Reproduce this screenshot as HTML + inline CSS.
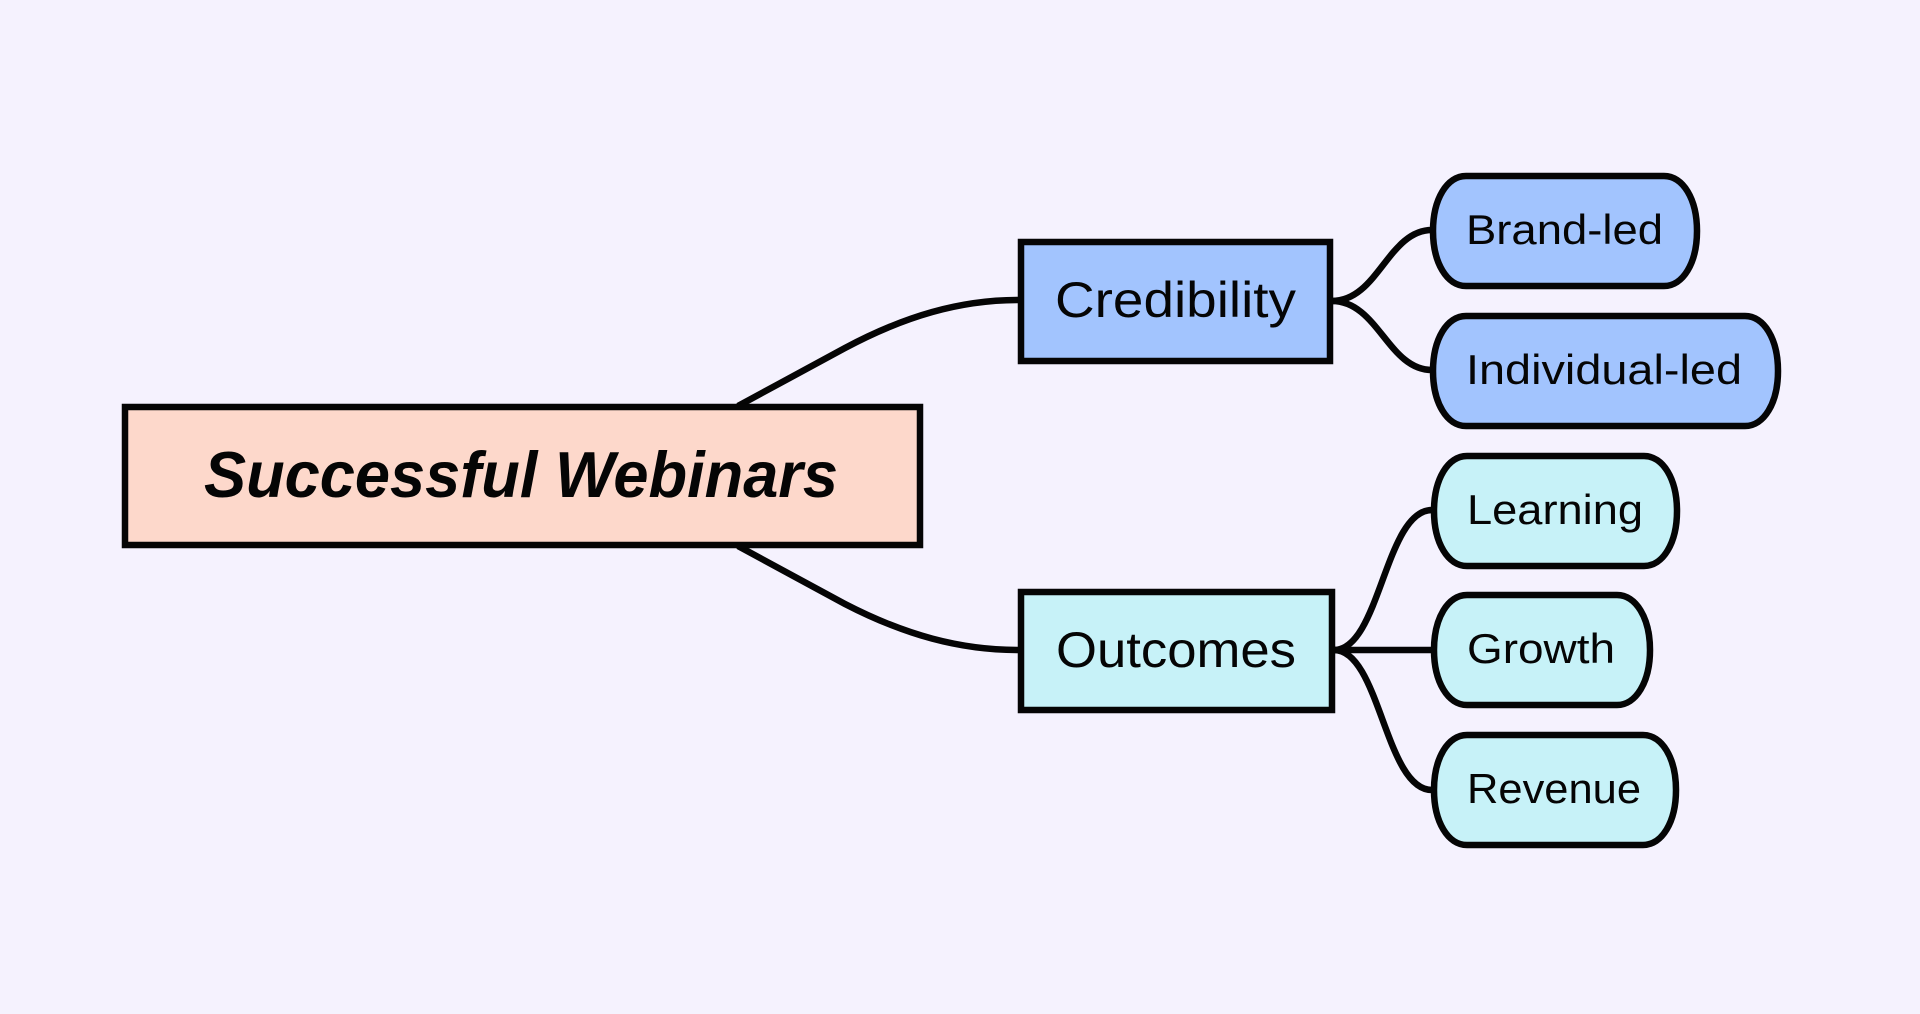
<!DOCTYPE html>
<html><head><meta charset="utf-8"><style>
html,body{margin:0;padding:0;background:#f5f2fe;overflow:hidden}
svg{display:block}
text{font-family:"Liberation Sans",sans-serif;fill:#050505}
</style></head><body>
<svg width="1920" height="1014" viewBox="0 0 1920 1014" xmlns="http://www.w3.org/2000/svg">
<rect width="1920" height="1014" fill="#f5f2fe"/>
<g fill="none" stroke="#050505" stroke-width="6.5">
<path d="M738 406 L845 348 C905 316 960 300 1018 300"/>
<path d="M738 546 L845 604 C905 635 960 650 1018 650"/>
<path d="M1332 301 C1378 301 1388 230 1432 230"/>
<path d="M1332 301 C1378 301 1388 370 1432 370"/>
<path d="M1334 650 C1380 650 1385 510 1432 510"/>
<path d="M1334 650 L1432 650"/>
<path d="M1334 650 C1380 650 1385 790 1432 790"/>
</g>
<g stroke="#050505" stroke-width="6.5">
<rect x="125" y="407" width="795" height="138" fill="#fdd8cb"/>
<rect x="1021" y="242" width="309" height="119" fill="#a2c4fe"/>
<rect x="1021" y="592" width="311" height="118" fill="#c7f2f8"/>
<path fill="#a2c4fe" d="M1466 176L1664 176C1683 176 1697 199 1697 231C1697 263 1683 286 1664 286L1466 286C1447 286 1433 263 1433 231C1433 199 1447 176 1466 176Z"/>
<path fill="#a2c4fe" d="M1466 316L1745 316C1764 316 1778 339 1778 371C1778 403 1764 426 1745 426L1466 426C1447 426 1433 403 1433 371C1433 339 1447 316 1466 316Z"/>
<path fill="#c7f2f8" d="M1467 456L1644 456C1663 456 1677 479 1677 511C1677 543 1663 566 1644 566L1467 566C1448 566 1434 543 1434 511C1434 479 1448 456 1467 456Z"/>
<path fill="#c7f2f8" d="M1467 595L1617 595C1636 595 1650 618 1650 650C1650 682 1636 705 1617 705L1467 705C1448 705 1434 682 1434 650C1434 618 1448 595 1467 595Z"/>
<path fill="#c7f2f8" d="M1467 735L1643 735C1662 735 1676 758 1676 790C1676 822 1662 845 1643 845L1467 845C1448 845 1434 822 1434 790C1434 758 1448 735 1467 735Z"/>
</g>
<text x="204" y="497" font-size="65" font-weight="bold" font-style="italic" textLength="634" lengthAdjust="spacingAndGlyphs">Successful Webinars</text>
<text x="1055" y="317" font-size="50" textLength="241" lengthAdjust="spacingAndGlyphs">Credibility</text>
<text x="1056" y="667" font-size="50" textLength="240" lengthAdjust="spacingAndGlyphs">Outcomes</text>
<text x="1466" y="244" font-size="42" textLength="197" lengthAdjust="spacingAndGlyphs">Brand-led</text>
<text x="1466" y="384" font-size="42" textLength="276" lengthAdjust="spacingAndGlyphs">Individual-led</text>
<text x="1467" y="524" font-size="42" textLength="176" lengthAdjust="spacingAndGlyphs">Learning</text>
<text x="1467" y="663" font-size="42" textLength="148" lengthAdjust="spacingAndGlyphs">Growth</text>
<text x="1467" y="803" font-size="42" textLength="174" lengthAdjust="spacingAndGlyphs">Revenue</text>
</svg>
</body></html>
